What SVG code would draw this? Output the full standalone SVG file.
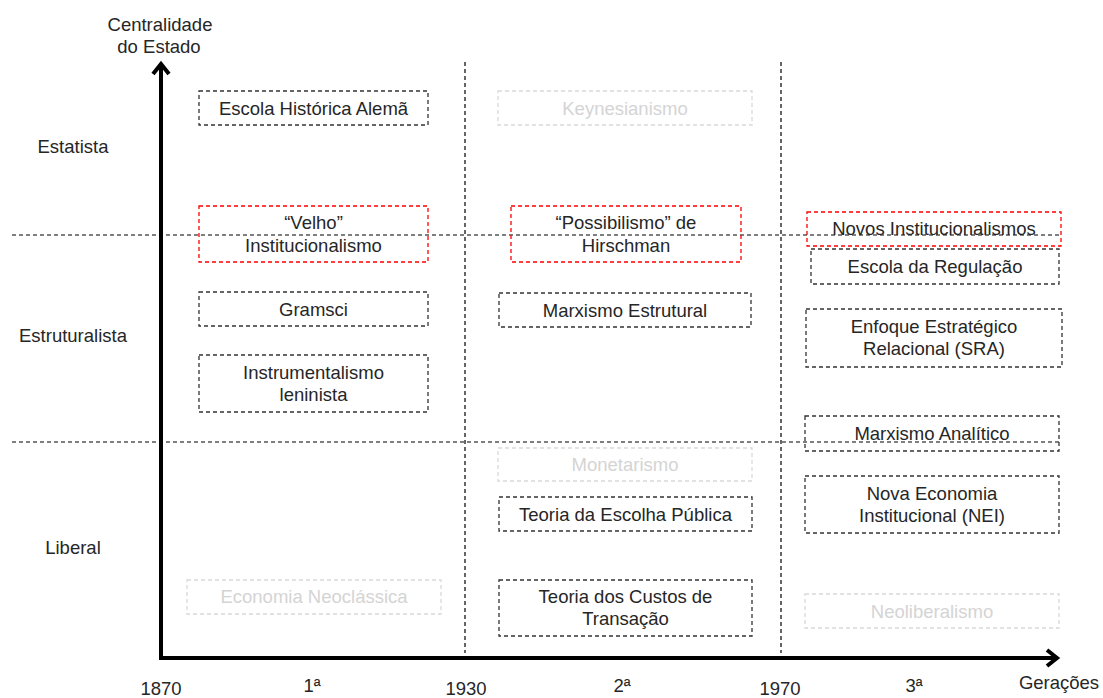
<svg xmlns="http://www.w3.org/2000/svg" width="1103" height="698" viewBox="0 0 1103 698">
<style>
text{font-family:"Liberation Sans",Arial,sans-serif;font-size:18.5px;fill:#262626;text-anchor:middle}
.lt{fill:#d4d4d4}
.box{fill:none;stroke:#333;stroke-width:1.3;stroke-dasharray:4 3}
.red{fill:none;stroke:#ff0000;stroke-width:1.3;stroke-dasharray:4 3}
.light{fill:none;stroke:#d9d9d9;stroke-width:1.3;stroke-dasharray:4 3}
.grid{stroke:#000;stroke-width:1.2;stroke-dasharray:4 3;fill:none}
.axis{stroke:#000;stroke-width:4;fill:none}
</style>
<rect width="1103" height="698" fill="#fff"/>
<g id="connectors">
<line class="grid" x1="12" y1="235" x2="1062" y2="235"/>
<line class="grid" x1="12" y1="442" x2="1060" y2="442"/>
<line class="grid" x1="465" y1="62" x2="465" y2="653"/>
<line class="grid" x1="781" y1="62" x2="781" y2="653"/>
<line class="axis" x1="161" y1="64" x2="161" y2="660"/>
<line class="axis" x1="159" y1="658" x2="1057" y2="658"/>
<polyline class="axis" points="153,74 161,64 169,74" stroke-linejoin="miter"/>
<polyline class="axis" points="1047,650 1057,658 1047,666" stroke-linejoin="miter"/>
</g>
<g id="axis-labels">
<text x="160" y="31">Centralidade</text>
<text x="159" y="53">do Estado</text>
<text x="73" y="153">Estatista</text>
<text x="73" y="342">Estruturalista</text>
<text x="73" y="554">Liberal</text>
<text x="161" y="695">1870</text>
<text x="312" y="692">1ª</text>
<text x="466" y="695">1930</text>
<text x="622" y="692">2ª</text>
<text x="780" y="695">1970</text>
<text x="914" y="692">3ª</text>
<text x="1059" y="689">Gerações</text>
</g>
<g id="escola-historica">
<rect class="box" x="199" y="91" width="229" height="34"/>
<text x="313.5" y="114.5">Escola Histórica Alemã</text>
</g>
<g id="velho-institucionalismo">
<rect class="red" x="199" y="206" width="229" height="56"/>
<text x="313.5" y="229">“Velho”</text>
<text x="313.5" y="252">Institucionalismo</text>
</g>
<g id="gramsci">
<rect class="box" x="199" y="292" width="229" height="34"/>
<text x="313.5" y="315.5">Gramsci</text>
</g>
<g id="instrumentalismo">
<rect class="box" x="199" y="355" width="229" height="57"/>
<text x="313.5" y="379">Instrumentalismo</text>
<text x="313.5" y="401">leninista</text>
</g>
<g id="economia-neoclassica">
<rect class="light" x="187" y="580" width="254" height="34"/>
<text class="lt" x="314" y="603">Economia Neoclássica</text>
</g>
<g id="keynesianismo">
<rect class="light" x="498" y="91" width="254" height="34"/>
<text class="lt" x="625" y="114.5">Keynesianismo</text>
</g>
<g id="possibilismo">
<rect class="red" x="511" y="206" width="230" height="56"/>
<text x="626" y="229">“Possibilismo” de</text>
<text x="626" y="252">Hirschman</text>
</g>
<g id="marxismo-estrutural">
<rect class="box" x="499" y="293" width="252" height="34"/>
<text x="625" y="316.5">Marxismo Estrutural</text>
</g>
<g id="monetarismo">
<rect class="light" x="498" y="448" width="254" height="33"/>
<text class="lt" x="625" y="471">Monetarismo</text>
</g>
<g id="escolha-publica">
<rect class="box" x="499" y="497" width="253" height="34"/>
<text x="625.5" y="520.5">Teoria da Escolha Pública</text>
</g>
<g id="custos-transacao">
<rect class="box" x="499" y="580" width="253" height="56"/>
<text x="625.5" y="603">Teoria dos Custos de</text>
<text x="625.5" y="625">Transação</text>
</g>
<g id="novos-institucionalismos">
<rect class="red" x="807" y="212" width="254" height="34"/>
<text x="934" y="235">Novos Institucionalismos</text>
</g>
<g id="escola-regulacao">
<rect class="box" x="811" y="249" width="248" height="35"/>
<text x="935" y="273">Escola da Regulação</text>
</g>
<g id="enfoque-estrategico">
<rect class="box" x="806" y="309" width="256" height="58"/>
<text x="934" y="333">Enfoque Estratégico</text>
<text x="934" y="355">Relacional (SRA)</text>
</g>
<g id="marxismo-analitico">
<rect class="box" x="805" y="416" width="254" height="35"/>
<text x="932" y="440">Marxismo Analítico</text>
</g>
<g id="nova-economia">
<rect class="box" x="805" y="476" width="254" height="57"/>
<text x="932" y="500">Nova Economia</text>
<text x="932" y="522">Institucional (NEI)</text>
</g>
<g id="neoliberalismo">
<rect class="light" x="805" y="594" width="254" height="34"/>
<text class="lt" x="932" y="617.5">Neoliberalismo</text>
</g>
</svg>
